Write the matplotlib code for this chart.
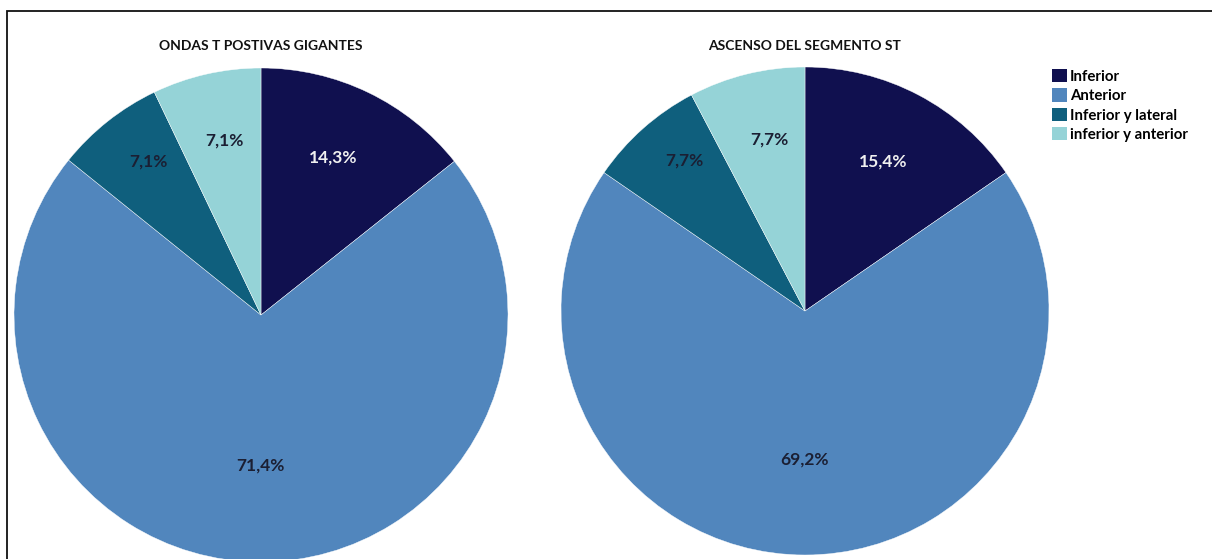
import numpy as np
import matplotlib
matplotlib.use("Agg")
import matplotlib.pyplot as plt
from matplotlib.patches import Rectangle, Patch

plt.rcParams['font.family'] = ['Lato', 'DejaVu Sans']

categories = ["Inferior", "Anterior", "Inferior y lateral", "inferior y anterior"]
titles = ["ONDAS T POSTIVAS GIGANTES", "ASCENSO DEL SEGMENTO ST"]
ondas_t = [14.3, 71.4, 7.1, 7.1]
segmento_st = [15.4, 69.2, 7.7, 7.7]

colors = ["#10104f", "#5186bd", "#0f5f7d", "#95d3d7"]
label_colors = ["#f0f0f0", "#1b1f33", "#1b1f33", "#1b1f33"]

W, H = 1212, 559
fig = plt.figure(figsize=(W / 100, H / 100), dpi=100)

# outer frame of the chart area
fig.patches.append(Rectangle((7 / W, -0.1), 1.2, (H - 11) / H + 0.1,
                             transform=fig.transFigure, fill=False,
                             edgecolor="#111111", linewidth=1.3))


def pie_axes(cx, cy, r):
    return fig.add_axes([(cx - r) / W, (H - cy - r) / H, 2 * r / W, 2 * r / H])


layouts = [
    dict(center=(261, 315), r=247, radial=[0.70, 0.61, 0.77, 0.72], nudge=[1, 0, -2, -1]),
    dict(center=(805, 311), r=244, radial=[0.69, 0.61, 0.79, 0.72], nudge=[0, 0, -3, -2]),
]

for values, title, lay in zip([ondas_t, segmento_st], titles, layouts):
    ax = pie_axes(*lay["center"], lay["r"])
    wedges, _ = ax.pie(values, colors=colors, startangle=90, counterclock=False,
                       radius=1.0, wedgeprops=dict(edgecolor="white", linewidth=0.3))
    ax.set_xlim(-1, 1)
    ax.set_ylim(-1, 1)
    ax.set_aspect("equal")
    ax.axis("off")
    for w, v, rad, nd, tc in zip(wedges, values, lay["radial"], lay["nudge"], label_colors):
        ang = np.deg2rad((w.theta1 + w.theta2) / 2 + nd)
        ax.text(rad * np.cos(ang), rad * np.sin(ang), f"{v:.1f}".replace(".", ",") + "%",
                ha="center", va="center", fontsize=12.5, fontweight="bold", color=tc)
    cx = lay["center"][0]
    fig.text(cx / W, 1 - 46 / H, title, ha="center", va="center",
             fontsize=10, fontweight="bold", color="#111111")

handles = [Patch(facecolor=c, edgecolor="none") for c in colors]
fig.legend(handles, categories, loc="upper left", bbox_to_anchor=(1052 / W, 1 - 69 / H),
           frameon=False, prop=dict(family="Lato", weight="bold", size=10.8),
           handlelength=1.0, handleheight=1.0, handletextpad=0.2, labelspacing=0.3,
           borderaxespad=0, borderpad=0)

fig.savefig("out.png", dpi=100)
